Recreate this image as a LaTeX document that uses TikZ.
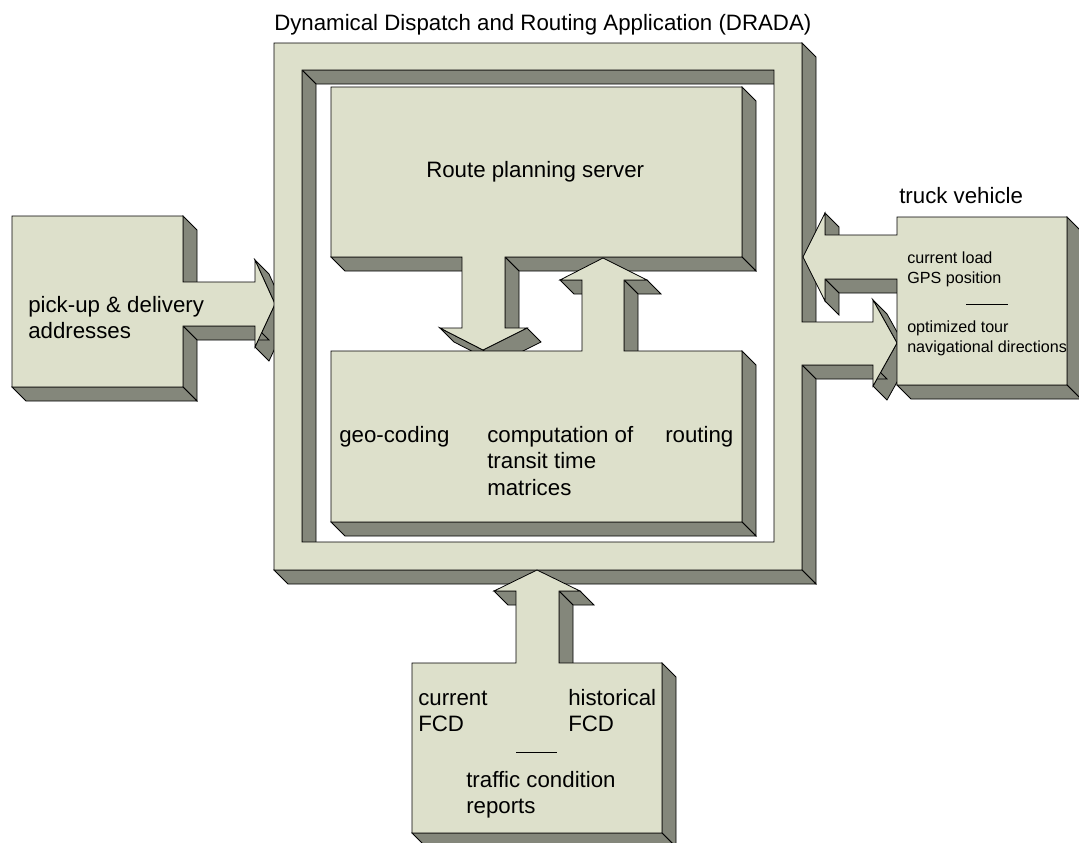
\documentclass[tikz,border=0pt]{standalone}
\usepackage{fontspec}
\setmainfont{Liberation Sans}
\usepackage{xcolor}
\usepackage{tikz}
\definecolor{facegreen}{RGB}{221,224,203}
\definecolor{wallgrey}{RGB}{132,135,123}
\tikzset{
	blockface/.style={fill=facegreen, draw=black, line width=0.6pt},
	blockwall/.style={fill=wallgrey, draw=black, line width=0.6pt},
	bigtext/.style={anchor=base west, inner sep=0pt, font=\fontsize{16.7}{20}\selectfont},
	smalltext/.style={anchor=base west, inner sep=0pt, font=\fontsize{12.1}{15}\selectfont}
}
\newcommand{\dep}{14}
\newcommand{\blockwalls}[1]{
	\foreach \px/\py [count=\k, remember=\px as \qx (initially 0), remember=\py as \qy (initially 0)] in {#1}{
		\ifnum\k>1
			\pgfmathsetmacro{\vis}{(\py-\qy)-(\px-\qx)}
			\ifdim\vis pt>0pt
				\filldraw[blockwall] (\qx,\qy) -- (\px,\py) -- (\px+\dep,\py+\dep) -- (\qx+\dep,\qy+\dep) -- cycle;
			\fi
		\fi
	}
}
\newcommand{\blockface}[1]{
	\def\facepath{}
	\foreach \px/\py in {#1}{\xdef\facepath{\facepath (\px,\py) --}}
	\filldraw[blockface] \facepath cycle;
}
\newcommand{\solidblock}[1]{
	\blockwalls{#1}
	\blockface{#1}
}

\begin{document}
\begin{tikzpicture}[x=0.75pt, y=-0.75pt]
	\useasboundingbox (0,0) rectangle (1079,843);
	
	% pick-up block with its arrow is drawn
	\solidblock{12/216, 183/216, 183/282, 255/282, 255/260, 275/304, 255/347, 255/326, 183/326, 183/387, 12/387, 12/216}
	
	% DRADA frame with the arrow to the truck is drawn
	\blockwalls{274/43, 802/43, 802/322, 873/322, 873/300, 897/343, 873/386, 873/365, 802/365, 802/570, 274/570, 274/43}
	\blockwalls{774/70, 302/70, 302/542, 774/542, 774/70}
	\filldraw[blockface, even odd rule] (274,43) -- (802,43) -- (802,322) -- (873,322) -- (873,300) -- (897,343) -- (873,386) -- (873,365) -- (802,365) -- (802,570) -- (274,570) -- cycle
		(302,70) -- (774,70) -- (774,542) -- (302,542) -- cycle;
	
	% route planning server and computation blocks
	\solidblock{331/87, 742/87, 742/257, 505/257, 505/328, 527/328, 483/350, 440/328, 462/328, 462/257, 331/257, 331/87}
	\solidblock{331/351, 582/351, 582/280, 560/280, 603/258, 647/280, 624/280, 624/351, 742/351, 742/522, 331/522, 331/351}
	
	% truck vehicle and traffic data blocks
	\solidblock{897/217, 1067/217, 1067/385, 897/385, 897/279, 825/279, 825/301, 803/257, 825/213, 825/235, 897/235, 897/217}
	\solidblock{412/663, 516/663, 516/591, 494/591, 537/570, 580/591, 559/591, 559/663, 662/663, 662/833, 412/833, 412/663}
	
	\node[bigtext] (drada) at (274,30) {Dynamical Dispatch and Routing Application (DRADA)};
	\node[bigtext] (route) at (426,177) {Route planning server};
	\node[bigtext] (geocoding) at (339,442) {geo-coding};
	\node[bigtext] (matrices) at (487,442) {\begin{tabular}[t]{@{}l@{}} computation of \\ transit time \\ matrices \end{tabular}};
	\node[bigtext] (routing) at (665,442) {routing};
	\node[bigtext] (pickup) at (28,312) {\begin{tabular}[t]{@{}l@{}} pick-up \& delivery \\ addresses \end{tabular}};
	\node[bigtext] (truck) at (899,203) {truck vehicle};
	\node[smalltext] (truck-in) at (907,263) {\begin{tabular}[t]{@{}l@{}} current load \\ GPS position \end{tabular}};
	\node[smalltext] (truck-out) at (907,332) {\begin{tabular}[t]{@{}l@{}} optimized tour \\ navigational directions \end{tabular}};
	\draw[line width=0.6pt] (966,304) -- (1008,304);
	\node[bigtext] (fcd-current) at (418,705) {\begin{tabular}[t]{@{}l@{}} current \\ FCD \end{tabular}};
	\node[bigtext] (fcd-historical) at (568,705) {\begin{tabular}[t]{@{}l@{}} historical \\ FCD \end{tabular}};
	\draw[line width=0.6pt] (516,752) -- (557,752);
	\node[bigtext] (reports) at (466,787) {\begin{tabular}[t]{@{}l@{}} traffic condition \\ reports \end{tabular}};
	
\end{tikzpicture}
\end{document}
